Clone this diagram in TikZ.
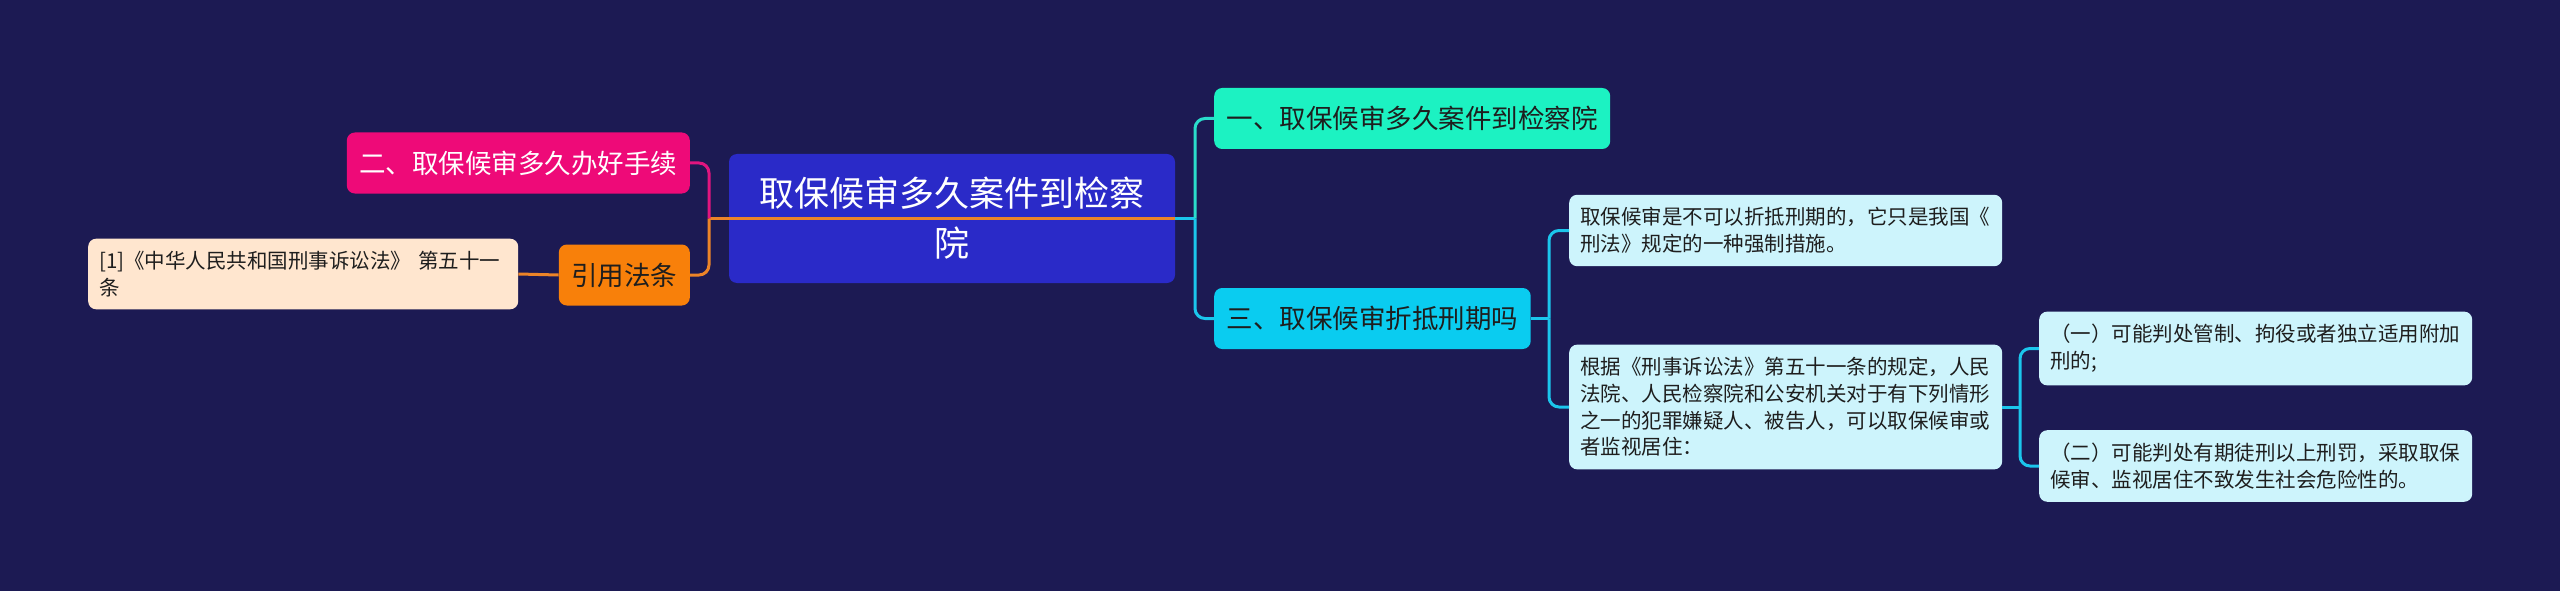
\documentclass[tikz,border=0pt]{standalone}
\usepackage{fontspec}
\setmainfont{Noto Sans CJK SC}
\definecolor{bgcol}{HTML}{1C1A53}
\definecolor{rootcol}{HTML}{2A2AC8}
\definecolor{mintcol}{HTML}{1CF2C2}
\definecolor{cyancol}{HTML}{0ACCF0}
\definecolor{leafcol}{HTML}{CDF4FC}
\definecolor{pinkcol}{HTML}{EE0A78}
\definecolor{orangecol}{HTML}{F8800A}
\definecolor{peachcol}{HTML}{FFE6CF}
\definecolor{txtcol}{HTML}{1E1E1E}
\definecolor{mintline}{HTML}{2ADDCB}
\definecolor{cyanline}{HTML}{1BC6EC}
\definecolor{pinkline}{HTML}{E0157F}
\definecolor{orangeline}{HTML}{EC8428}

\begin{document}
\begin{tikzpicture}[x=1pt, y=-1pt,
  topic/.style={rounded corners=8pt, inner xsep=12.5pt, minimum height=61pt, font=\fontsize{26.5}{32}\selectfont},
  leaf/.style={rounded corners=8pt, fill=leafcol, text=txtcol, align=left, text width=411pt, inner xsep=11pt, inner ysep=12.8pt, font=\fontsize{20.5}{26.7}\selectfont},
  link/.style={line width=3pt, rounded corners=10pt}]
  \fill[bgcol] (0,0) rectangle (2560,591);
  \useasboundingbox (0,0) rectangle (2560,591);

  \node (root) [fill=rootcol, text=white, rounded corners=8pt, minimum width=446pt, minimum height=129pt, align=center, font=\fontsize{35}{50}\selectfont] at (952,218.5) {取保候审多久案件到检察\\院};

  \node (two) [topic, fill=pinkcol, text=white, anchor=east] at (690,163) {二、取保候审多久办好手续};
  \node (cite) [topic, fill=orangecol, text=txtcol, anchor=east] at (690,275) {引用法条};
  \node (law) [leaf, fill=peachcol, text width=408pt, anchor=west, inner ysep=12.5pt] at (88,274) {[1]《中华人民共和国刑事诉讼法》 第五十一\\条};

  \node (one) [topic, fill=mintcol, text=txtcol, anchor=west] at (1214,118.5) {一、取保候审多久案件到检察院};
  \node (three) [topic, fill=cyancol, text=txtcol, anchor=west] at (1214,318.5) {三、取保候审折抵刑期吗};

  \node (leafa) [leaf, anchor=west] at (1569,230.5) {取保候审是不可以折抵刑期的，它只是我国《\\刑法》规定的一种强制措施。};
  \node (leafb) [leaf, anchor=west] at (1569,407) {根据《刑事诉讼法》第五十一条的规定，人民\\法院、人民检察院和公安机关对于有下列情形\\之一的犯罪嫌疑人、被告人，可以取保候审或\\者监视居住：};
  \node (leafc) [leaf, anchor=west] at (2039,348.5) {（一）可能判处管制、拘役或者独立适用附加\\刑的;};
  \node (leafd) [leaf, anchor=west] at (2039,466) {（二）可能判处有期徒刑以上刑罚，采取取保\\候审、监视居住不致发生社会危险性的。};

  \coordinate (jl) at (709,218.5);
  \coordinate (jr) at (1195,218.5);
  \coordinate (j3) at (1549,318.5);
  \coordinate (jb) at (2020,407);

  \draw[link, orangeline] (root.east) -- (jl);
  \draw[link, pinkline] (jl) |- (two.east);
  \draw[link, orangeline] (jl) |- (cite.east);
  \draw[link, orangeline] (cite.west) -- (law.east);
  \draw[link, cyanline] (root.east) -- (jr);
  \draw[link, mintline] (jr) |- (one.west);
  \draw[link, cyanline] (jr) |- (three.west);
  \draw[link, cyanline] (three.east) -- (j3);
  \draw[link, cyanline] (j3) |- (leafa.west);
  \draw[link, cyanline] (j3) |- (leafb.west);
  \draw[link, cyanline] (leafb.east) -- (jb);
  \draw[link, cyanline] (jb) |- (leafc.west);
  \draw[link, cyanline] (jb) |- (leafd.west);
\end{tikzpicture}
\end{document}
